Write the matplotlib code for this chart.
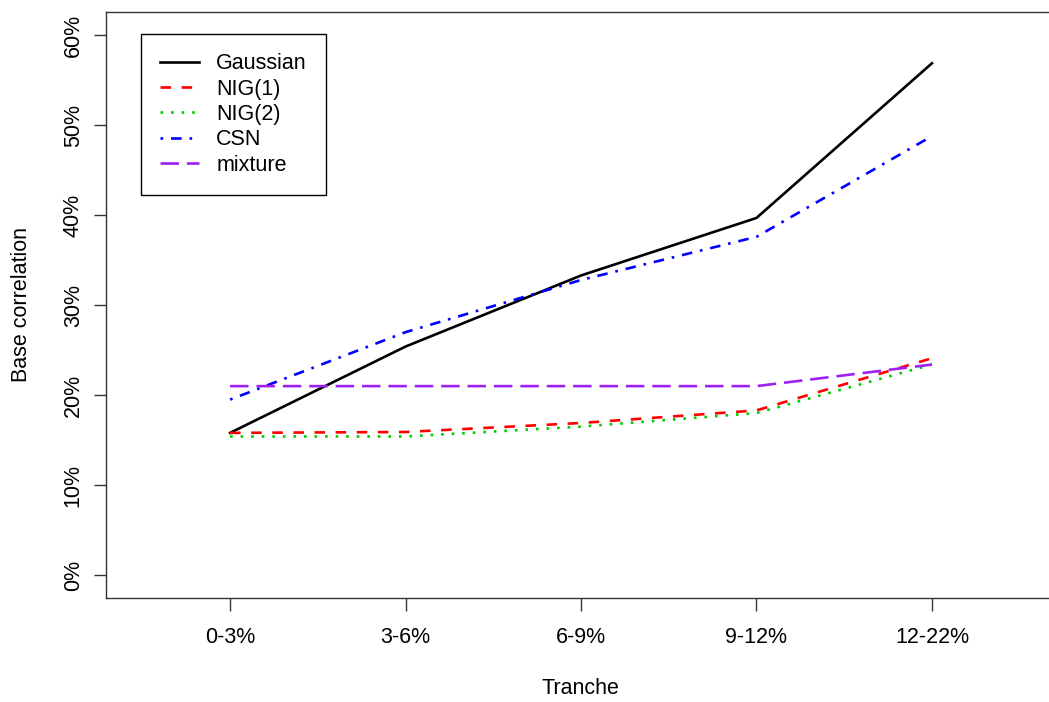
import numpy as np
import matplotlib
matplotlib.use("Agg")
import matplotlib.pyplot as plt
from matplotlib.ticker import FuncFormatter

tranches = ["0-3%", "3-6%", "6-9%", "9-12%", "12-22%"]
gaussian = [0.158, 0.254, 0.333, 0.397, 0.569]
nig1 = [0.158, 0.159, 0.169, 0.183, 0.241]
nig2 = [0.154, 0.154, 0.165, 0.180, 0.234]
csn = [0.195, 0.270, 0.328, 0.376, 0.488]
mixture = [0.210, 0.210, 0.210, 0.210, 0.234]
yticks = [0.0, 0.1, 0.2, 0.3, 0.4, 0.5, 0.6]

plt.rcParams['font.family'] = ['Liberation Sans', 'DejaVu Sans']
fs = 15.5

fig = plt.figure(figsize=(10.49, 7.02), dpi=100)
ax = fig.add_axes([106/1049, 1 - 598/702, 1 - 106/1049, 586/702])

x = np.arange(1, len(tranches) + 1)
lw = 1.9
ax.plot(x, gaussian, color="black", lw=lw, label="Gaussian")
ax.plot(x, nig1, color="#FF0000", lw=lw, dashes=(4, 4), label="NIG(1)")
ax.plot(x, nig2, color="#00CD00", lw=lw, dashes=(1, 3), label="NIG(2)")
ax.plot(x, csn, color="#0000FF", lw=lw, dashes=(1, 3, 4, 3), label="CSN")
ax.plot(x, mixture, color="#A020F0", lw=lw, dashes=(7, 3), label="mixture")

ax.set_xlim(0.293, 5.667)
ax.set_ylim(-0.0256, 0.626)
ax.set_xticks(x)
ax.set_xticklabels(tranches)
ax.set_yticks(yticks)
ax.yaxis.set_major_formatter(FuncFormatter(lambda v, p: "%d%%" % round(v * 100)))

for s in ["left", "bottom", "top"]:
    ax.spines[s].set_color("#333333")
    ax.spines[s].set_linewidth(1.0)
ax.spines["right"].set_visible(False)

ax.tick_params(axis="both", direction="out", length=9, width=1.0, color="#333333",
               labelsize=fs)
ax.tick_params(axis="x", pad=12)
ax.tick_params(axis="y", pad=7)
for lab in ax.get_yticklabels():
    lab.set_rotation(90)
    lab.set_va("center")

ax.set_xlabel("Tranche", fontsize=fs)
ax.set_ylabel("Base correlation", fontsize=fs)
ax.xaxis.set_label_coords(0.5027, -0.154)
ax.xaxis.label.set_va("center")
ax.yaxis.set_label_coords(-0.090, 0.5)
ax.yaxis.label.set_va("center")

leg = ax.legend(loc="upper left", bbox_to_anchor=(0.0371, 0.9625), fontsize=fs,
                fancybox=False, edgecolor="black", framealpha=1,
                handlelength=1.8, handletextpad=0.8, labelspacing=0.2,
                borderpad=0.9, borderaxespad=0)
leg.get_frame().set_linewidth(1.0)

fig.savefig("out.png", dpi=100)
